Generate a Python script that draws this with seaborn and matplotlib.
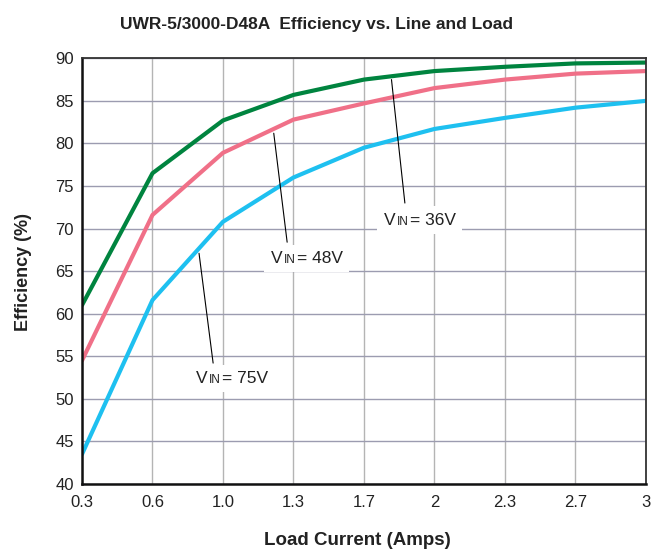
import pandas as pd
import matplotlib
matplotlib.use("Agg")
from matplotlib import pyplot as plt
from matplotlib.offsetbox import TextArea, HPacker, AnnotationBbox
import seaborn as sns

# load current tick labels (evenly spaced on the chart)
loads = ["0.3", "0.6", "1.0", "1.3", "1.7", "2", "2.3", "2.7", "3"]

# efficiency (%) per input voltage
eff_36v = [61.0, 76.5, 82.7, 85.7, 87.5, 88.5, 89.0, 89.4, 89.5]
eff_48v = [54.5, 71.6, 78.9, 82.8, 84.7, 86.5, 87.5, 88.2, 88.5]
eff_75v = [43.5, 61.6, 70.8, 76.0, 79.5, 81.7, 83.0, 84.2, 85.0]

series = ["36V", "48V", "75V"]
colors = ["#00843f", "#f07088", "#1ec0f0"]

df = pd.concat([
    pd.DataFrame({"load": loads, "eff": vals, "vin": name})
    for name, vals in zip(series, [eff_36v, eff_48v, eff_75v])
])

sns.set_style("white")
plt.rcParams["font.family"] = ["Liberation Sans", "DejaVu Sans"]

fig = plt.figure(figsize=(6.65, 5.51), dpi=100)
ax = fig.add_axes([0.1233, 0.1216, 0.8481, 0.7726])

sns.lineplot(data=df, x="load", y="eff", hue="vin", palette=colors,
             linewidth=3.0, sort=False, legend=False, ax=ax)

ax.set_xlim(0, len(loads) - 1)
ax.set_ylim(40, 90)
ax.set_yticks(range(40, 91, 5))
ax.set_xticks(range(len(loads)))
ax.set_xticklabels(loads)
ax.tick_params(axis="both", length=0, labelsize=12, colors="#222222")
ax.tick_params(axis="x", pad=8)
ax.tick_params(axis="y", pad=6)
ax.grid(axis="x", color="#b4b4b4", linewidth=1.0)
ax.grid(axis="y", color="#9c9cb0", linewidth=1.0)
ax.set_axisbelow(True)
for side in ["left", "bottom"]:
    ax.spines[side].set_linewidth(1.8)
    ax.spines[side].set_color("#111111")
for side in ["top", "right"]:
    ax.spines[side].set_linewidth(1.3)
    ax.spines[side].set_color("#333333")

ax.set_xlabel("")
ax.set_ylabel("")
fig.text(0.476, 0.955, "UWR-5/3000-D48A  Efficiency vs. Line and Load",
         ha="center", va="center", fontsize=12.5, fontweight="bold", color="#222222")
fig.text(0.537, 0.004, "Load Current (Amps)", ha="center", va="bottom",
         fontsize=13.5, fontweight="bold", color="#222222")
fig.text(0.036, 0.507, "Efficiency (%)", ha="center", va="center",
         rotation=90, fontsize=13, fontweight="bold", color="#222222")

# leader lines and labels: (line start, line end, label center, voltage)
notes = [
    ((4.39, 87.5), (4.58, 73.0), (4.79, 71.0), "36V"),
    ((2.72, 81.2), (2.91, 68.4), (3.19, 66.5), "48V"),
    ((1.66, 67.1), (1.86, 54.2), (2.13, 52.4), "75V"),
]
for start, end, center, volt in notes:
    ax.annotate("", xy=start, xytext=end,
                arrowprops=dict(arrowstyle="-", color="black", lw=0.8,
                                shrinkA=0, shrinkB=0))
    parts = [
        TextArea("V", textprops=dict(fontsize=12.5, color="#222222")),
        TextArea("IN", textprops=dict(fontsize=8.5, color="#222222")),
        TextArea("= " + volt, textprops=dict(fontsize=12.5, color="#222222")),
    ]
    box = HPacker(children=parts, align="baseline", pad=0, sep=1)
    ab = AnnotationBbox(box, center, frameon=True, pad=0.45,
                        bboxprops=dict(facecolor="white", edgecolor="none"))
    ax.add_artist(ab)

fig.savefig("out.png", dpi=100)
